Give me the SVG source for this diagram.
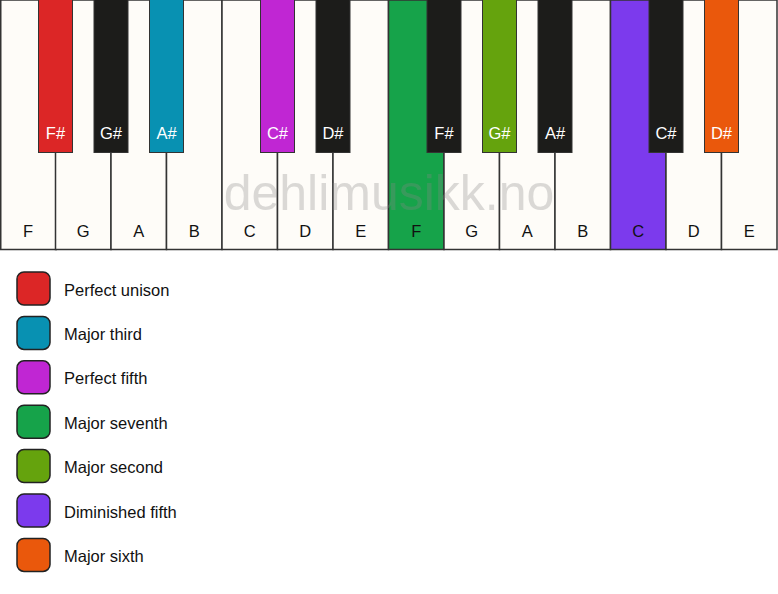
<svg xmlns="http://www.w3.org/2000/svg" width="778" height="594" viewBox="0 0 778 594">
<style>
.w{fill:#fefcf8;stroke:#333;stroke-width:1.5}
.b{stroke:#333;stroke-width:1}
.wl{font-family:"Liberation Sans",Arial,sans-serif;font-size:16.5px;fill:#111;text-anchor:middle}
.bl{font-family:"Liberation Sans",Arial,sans-serif;font-size:16.5px;fill:#fff;text-anchor:middle}
.sw{stroke:#222;stroke-width:1.5}
.lt{font-family:"Liberation Sans",Arial,sans-serif;font-size:16.5px;fill:#111}
.wm{font-family:"Liberation Sans",Arial,sans-serif;font-size:50px;fill:#888;opacity:0.3;text-anchor:middle}
</style>
<rect x="0" y="0" width="778" height="594" fill="#ffffff"/>
<g id="white-keys">
<g id="wk-F1"><rect class="w" x="0.75" y="0" width="55.5" height="249.5"/><text class="wl" x="28" y="236.5">F</text></g>
<g id="wk-G1"><rect class="w" x="55.5" y="0" width="55.5" height="249.5"/><text class="wl" x="83.25" y="236.5">G</text></g>
<g id="wk-A1"><rect class="w" x="111" y="0" width="55.5" height="249.5"/><text class="wl" x="138.75" y="236.5">A</text></g>
<g id="wk-B1"><rect class="w" x="166.5" y="0" width="55.5" height="249.5"/><text class="wl" x="194.25" y="236.5">B</text></g>
<g id="wk-C1"><rect class="w" x="222" y="0" width="55.5" height="249.5"/><text class="wl" x="249.75" y="236.5">C</text></g>
<g id="wk-D1"><rect class="w" x="277.5" y="0" width="55.5" height="249.5"/><text class="wl" x="305.25" y="236.5">D</text></g>
<g id="wk-E1"><rect class="w" x="333" y="0" width="55.5" height="249.5"/><text class="wl" x="360.75" y="236.5">E</text></g>
<g id="wk-F2"><rect class="w" x="388.5" y="0" width="55.5" height="249.5" style="fill:#16a34a"/><text class="wl" x="416.25" y="236.5">F</text></g>
<g id="wk-G2"><rect class="w" x="444" y="0" width="55.5" height="249.5"/><text class="wl" x="471.75" y="236.5">G</text></g>
<g id="wk-A2"><rect class="w" x="499.5" y="0" width="55.5" height="249.5"/><text class="wl" x="527.25" y="236.5">A</text></g>
<g id="wk-B2"><rect class="w" x="555" y="0" width="55.5" height="249.5"/><text class="wl" x="582.75" y="236.5">B</text></g>
<g id="wk-C2"><rect class="w" x="610.5" y="0" width="55.5" height="249.5" style="fill:#7c3aed"/><text class="wl" x="638.25" y="236.5">C</text></g>
<g id="wk-D2"><rect class="w" x="666" y="0" width="55.5" height="249.5"/><text class="wl" x="693.75" y="236.5">D</text></g>
<g id="wk-E2"><rect class="w" x="721.5" y="0" width="55.5" height="249.5"/><text class="wl" x="749.25" y="236.5">E</text></g>
</g>
<g id="black-keys">
<g id="bk-Fs1"><rect class="b" x="38.5" y="-1" width="34" height="153.5" fill="#dc2626"/><text class="bl" x="55.5" y="139">F#</text></g>
<g id="bk-Gs1"><rect class="b" x="94" y="-1" width="34" height="153.5" fill="#1c1c1a"/><text class="bl" x="111" y="139">G#</text></g>
<g id="bk-As1"><rect class="b" x="149.5" y="-1" width="34" height="153.5" fill="#0891b2"/><text class="bl" x="166.5" y="139">A#</text></g>
<g id="bk-Cs1"><rect class="b" x="260.5" y="-1" width="34" height="153.5" fill="#c026d3"/><text class="bl" x="277.5" y="139">C#</text></g>
<g id="bk-Ds1"><rect class="b" x="316" y="-1" width="34" height="153.5" fill="#1c1c1a"/><text class="bl" x="333" y="139">D#</text></g>
<g id="bk-Fs2"><rect class="b" x="427" y="-1" width="34" height="153.5" fill="#1c1c1a"/><text class="bl" x="444" y="139">F#</text></g>
<g id="bk-Gs2"><rect class="b" x="482.5" y="-1" width="34" height="153.5" fill="#65a30d"/><text class="bl" x="499.5" y="139">G#</text></g>
<g id="bk-As2"><rect class="b" x="538" y="-1" width="34" height="153.5" fill="#1c1c1a"/><text class="bl" x="555" y="139">A#</text></g>
<g id="bk-Cs2"><rect class="b" x="649" y="-1" width="34" height="153.5" fill="#1c1c1a"/><text class="bl" x="666" y="139">C#</text></g>
<g id="bk-Ds2"><rect class="b" x="704.5" y="-1" width="34" height="153.5" fill="#ea580c"/><text class="bl" x="721.5" y="139">D#</text></g>
</g>
<text class="wm" x="389" y="210">dehlimusikk.no</text>
<g id="legend">
<g id="lg-unison"><rect class="sw" x="17" y="272" width="33" height="33" rx="7" fill="#dc2626"/><text class="lt" x="64" y="295.5">Perfect unison</text></g>
<g id="lg-third"><rect class="sw" x="17" y="316.4" width="33" height="33" rx="7" fill="#0891b2"/><text class="lt" x="64" y="339.9">Major third</text></g>
<g id="lg-fifth"><rect class="sw" x="17" y="360.8" width="33" height="33" rx="7" fill="#c026d3"/><text class="lt" x="64" y="384.3">Perfect fifth</text></g>
<g id="lg-seventh"><rect class="sw" x="17" y="405.2" width="33" height="33" rx="7" fill="#16a34a"/><text class="lt" x="64" y="428.7">Major seventh</text></g>
<g id="lg-second"><rect class="sw" x="17" y="449.6" width="33" height="33" rx="7" fill="#65a30d"/><text class="lt" x="64" y="473.1">Major second</text></g>
<g id="lg-dimfifth"><rect class="sw" x="17" y="494" width="33" height="33" rx="7" fill="#7c3aed"/><text class="lt" x="64" y="517.5">Diminished fifth</text></g>
<g id="lg-sixth"><rect class="sw" x="17" y="538.4" width="33" height="33" rx="7" fill="#ea580c"/><text class="lt" x="64" y="561.9">Major sixth</text></g>
</g>
</svg>
